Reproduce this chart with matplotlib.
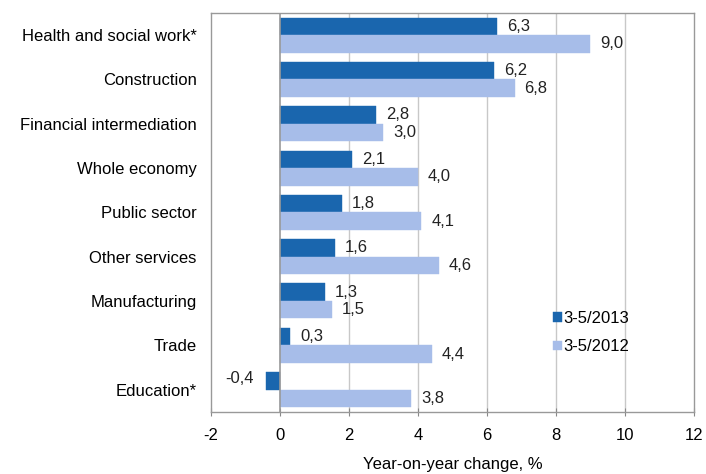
import matplotlib
matplotlib.use("Agg")
import matplotlib.pyplot as plt
import numpy as np
from matplotlib.transforms import offset_copy

categories = ["Health and social work*", "Construction", "Financial intermediation",
              "Whole economy", "Public sector", "Other services", "Manufacturing",
              "Trade", "Education*"]
values_2013 = [6.3, 6.2, 2.8, 2.1, 1.8, 1.6, 1.3, 0.3, -0.4]
values_2012 = [9.0, 6.8, 3.0, 4.0, 4.1, 4.6, 1.5, 4.4, 3.8]
series_names = ["3-5/2013", "3-5/2012"]
xticks = [-2, 0, 2, 4, 6, 8, 10, 12]

plt.rcParams['font.family'] = ['Liberation Sans', 'DejaVu Sans']
FS = 12

dark = "#1a66ae"
light = "#a7bde9"

fig = plt.figure(figsize=(7.06, 4.74), dpi=100)
ax = fig.add_axes([0.2985, 0.1314, 0.6845, 0.8412])

n = len(categories)
y = np.arange(n)
h = 0.395
ax.barh(y - h/2, values_2013, height=h, color=dark, edgecolor=dark, linewidth=0.3, label=series_names[0], zorder=3)
ax.barh(y + h/2, values_2012, height=h, color=light, edgecolor=light, linewidth=0.3, label=series_names[1], zorder=3)

ax.set_ylim(n - 0.5, -0.5)
ax.set_xlim(-2, 12)
ax.set_yticks(y)
ax.set_yticklabels(categories, fontsize=FS)
ax.tick_params(axis='y', length=0, pad=10)
ax.set_xticks(xticks)
ax.set_xticklabels([str(t) for t in xticks], fontsize=FS)
ax.tick_params(axis='x', direction='inout', length=6, color='#888888', pad=9)

for t in xticks[1:-1]:
    ax.axvline(t, color='#999999' if t == 0 else '#c8c8c8', linewidth=1.2 if t == 0 else 1.0, zorder=1 if t != 0 else 4)

for s in ax.spines.values():
    s.set_color('#999999')
    s.set_linewidth(1.0)

def fmt(v):
    return f"{v:.1f}".replace(".", ",")

right_off = offset_copy(ax.transData, fig=fig, x=10, y=0, units='dots')
left_off = offset_copy(ax.transData, fig=fig, x=-12, y=2, units='dots')
for i in range(n):
    for v, yy in ((values_2013[i], y[i] - h/2), (values_2012[i], y[i] + h/2)):
        if v >= 0:
            ax.text(v, yy, fmt(v), transform=right_off, ha='left', va='center', fontsize=FS, color='#222222')
        else:
            ax.text(v, yy, fmt(v), transform=left_off, ha='right', va='center', fontsize=FS, color='#222222')

ax.set_xlabel("Year-on-year change, %", fontsize=FS, labelpad=10)

leg = ax.legend(loc='upper left', bbox_to_anchor=(0.678, 0.29), frameon=False, fontsize=FS,
                handlelength=0.5, handleheight=0.5, handletextpad=0.1, labelspacing=0.8)

fig.savefig("out.png", dpi=100)
